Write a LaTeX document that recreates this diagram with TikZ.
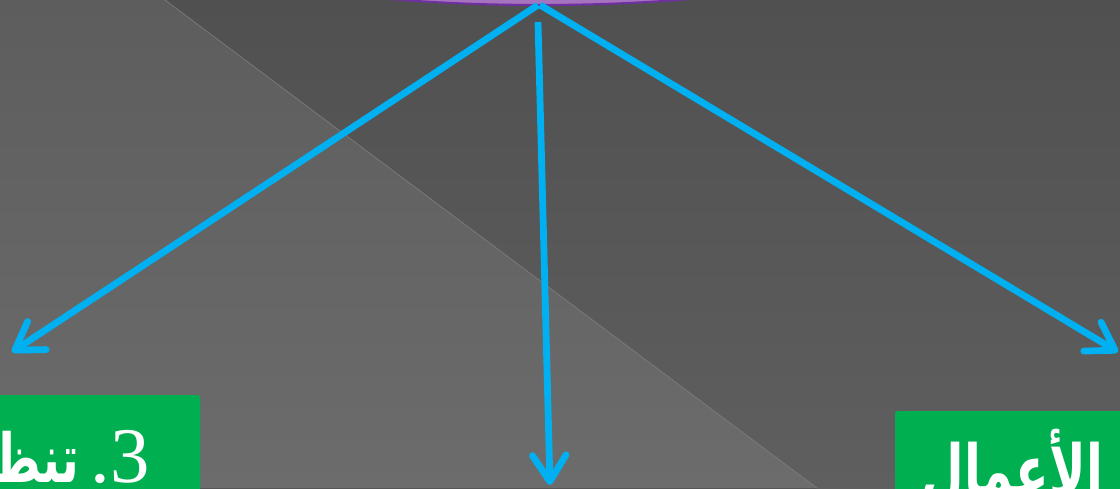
\documentclass[tikz,border=0pt]{standalone}
\usepackage{fontspec}
\usetikzlibrary{arrows.meta,shapes.geometric,calc}
\TeXXeTstate=1
\newfontfamily\arabicfont[Script=Arabic]{DejaVu Sans}
\newfontfamily\numfont{Liberation Serif}
\definecolor{bgdarktop}{HTML}{505050}
\definecolor{bgdarkbot}{HTML}{5F5F5F}
\definecolor{bglighttop}{HTML}{5D5D5D}
\definecolor{bglightbot}{HTML}{6C6C6C}
\definecolor{edgegray}{HTML}{7E7E7E}
\definecolor{arrowblue}{HTML}{00B0F0}
\definecolor{boxgreen}{HTML}{00B050}
\definecolor{ovalline}{HTML}{7030A0}
\definecolor{ovalfill}{HTML}{A673BE}

\begin{document}
\begin{tikzpicture}[x=0.025cm, y=-0.025cm,
    >={Straight Barb[length=0.66cm, width=0.84cm, round]},
    flow/.style={->, draw=arrowblue, line width=0.17cm},
    greenbox/.style={fill=boxgreen, rounded corners=2pt, inner sep=0pt, outer sep=0pt},
    boxtext/.style={text=white, inner sep=0pt, outer sep=0pt}]
    % 画布范围
    \useasboundingbox (0,0) rectangle (1120,488);
    \clip (0,0) rectangle (1120,488);

    % 背景 (斜线分成两块)
    \fill[top color=bgdarktop, bottom color=bgdarkbot] (0,0) rectangle (1120,488);
    \fill[top color=bglighttop, bottom color=bglightbot] (165,0) -- (817,488) -- (0,488) -- (0,0) -- cycle;
    \draw[edgegray, line width=0.5pt] (165,0) -- (817,488);

    % 顶部椭圆
    \node[ellipse, draw=ovalline, fill=ovalfill, line width=1.5pt, inner sep=0pt, outer sep=0pt,
          minimum width=15.65cm, minimum height=2.5cm] (topoval) at (540,-45) {};

    % 箭头终点
    \coordinate (midstart) at (538,22);
    \coordinate (lefttip) at (12,352);
    \coordinate (midtip) at (550,485);
    \coordinate (righttip) at (1118,352);

    % 三个箭头
    \draw[flow] ($(topoval.south)+(-2,0)$) -- (lefttip);
    \draw[flow] (midstart) -- (midtip);
    \draw[flow] (topoval.south) -- (righttip);

    % 左侧绿色方块
    \node[greenbox, minimum width=5.5cm, minimum height=3cm, anchor=north east] (leftbox) at (200,395) {};
    \node[boxtext, anchor=base east] (lefttext) at ($(leftbox.north east)+(-50,87)$)
        {\scalebox{0.7}[1]{\arabicfont\bfseries\fontsize{48}{52}\selectfont\beginR تنظيم\endR}\hspace{8pt}{\numfont\fontsize{56}{60}\selectfont\beginR 3\kern0pt.\endR}};

    % 右侧绿色方块
    \node[greenbox, minimum width=6cm, minimum height=3cm, anchor=north west] (rightbox) at (895,411) {};
    \node[boxtext, anchor=base east] (righttext) at ($(rightbox.north west)+(208,84)$)
        {\scalebox{0.7}[1]{\arabicfont\bfseries\fontsize{50}{54}\selectfont\beginR الأعمال\endR}};
\end{tikzpicture}
\end{document}
